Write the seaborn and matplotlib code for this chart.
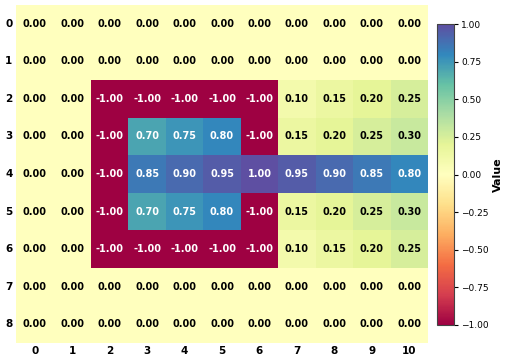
import numpy as np
import pandas as pd
import matplotlib
matplotlib.use("Agg")
import matplotlib.pyplot as plt
import seaborn as sns

# Grid values
row_zero = [0.00, 0.00, 0.00, 0.00, 0.00, 0.00, 0.00, 0.00, 0.00, 0.00, 0.00]
row_edge = [0.00, 0.00, -1.00, -1.00, -1.00, -1.00, -1.00, 0.10, 0.15, 0.20, 0.25]
row_inner = [0.00, 0.00, -1.00, 0.70, 0.75, 0.80, -1.00, 0.15, 0.20, 0.25, 0.30]
row_mid = [0.00, 0.00, -1.00, 0.85, 0.90, 0.95, 1.00, 0.95, 0.90, 0.85, 0.80]

rows = [row_zero, row_zero, row_edge, row_inner, row_mid, row_inner, row_edge, row_zero, row_zero]
col_labels = [str(i) for i in range(11)]
row_labels = [str(i) for i in range(9)]

df = pd.DataFrame(rows, index=row_labels, columns=col_labels)

fig = plt.figure(figsize=(5.08, 3.62), dpi=100)
ax = fig.add_axes([16 / 508, 1 - 343 / 362, 412 / 508, 338 / 362])
cax = fig.add_axes([437 / 508, 1 - 325 / 362, 17 / 508, 301 / 362])

sns.heatmap(df, ax=ax, cbar_ax=cax, cmap="Spectral", vmin=-1, vmax=1,
            annot=True, fmt=".2f",
            annot_kws={"fontsize": 7, "fontweight": "bold"},
            cbar_kws={"ticks": np.arange(-1, 1.01, 0.25)})

# seaborn picks dark grey for light cells; the reference uses plain black
for t in ax.texts:
    if t.get_color() != "w":
        t.set_color("black")

ax.tick_params(length=0, labelsize=7.5, pad=2.5)
for lbl in ax.get_xticklabels() + ax.get_yticklabels():
    lbl.set_fontweight("bold")
ax.set_yticklabels(ax.get_yticklabels(), rotation=0)

cax.tick_params(labelsize=6.5, length=3, pad=2)
cax.set_ylabel("Value", fontsize=8, fontweight="bold", labelpad=3)
cbar = ax.collections[0].colorbar
cbar.outline.set_visible(True)
cbar.outline.set_edgecolor("#444444")
cbar.outline.set_linewidth(0.8)

fig.savefig("out.png", dpi=100)
